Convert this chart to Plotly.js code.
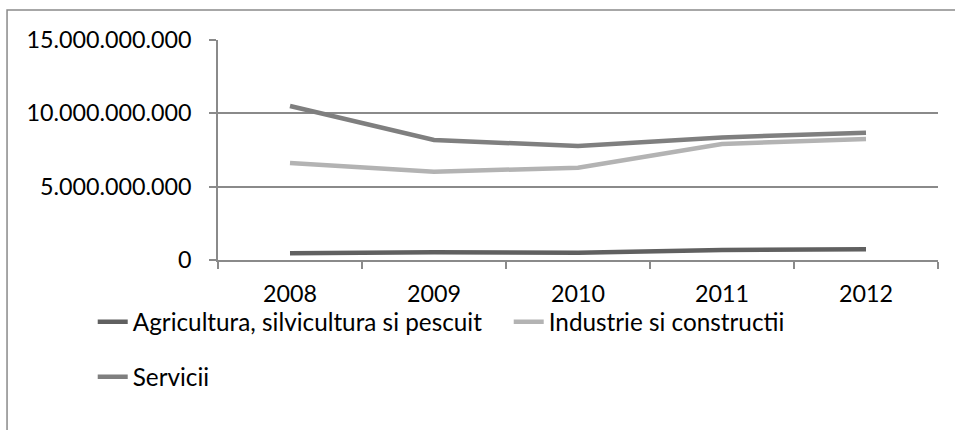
<!DOCTYPE html>
<html>
<head>
<meta charset="utf-8">
<script src="https://cdn.plot.ly/plotly-3.0.1.min.js"></script>
<style>
  body { margin: 0; background: #fff; }
  #chart { width: 955px; height: 430px; }
</style>
</head>
<body>
<div id="chart"></div>
<script>
// Values (lei)
const years = ['2008', '2009', '2010', '2011', '2012'];
const agricultura = [0.46e9, 0.52e9, 0.50e9, 0.68e9, 0.73e9];
const industrie = [6.61e9, 6.02e9, 6.29e9, 7.91e9, 8.25e9];
const servicii = [10.50e9, 8.18e9, 7.77e9, 8.36e9, 8.68e9];

const yTicks = [0, 5e9, 10e9, 15e9];
const yTickText = ['0', '5.000.000.000', '10.000.000.000', '15.000.000.000'];

const font = 'Lato, "Open Sans", sans-serif';
const gridColor = '#8a8a8a';

function lineTrace(name, values, color, legend) {
    return {
        x: years,
        y: values,
        type: 'scatter',
        mode: 'lines',
        name: name,
        legend: legend,
        line: { color: color, width: 4.5 },
        hoverinfo: 'x+y+name'
    };
}

const traces = [
    lineTrace('Agricultura, silvicultura si pescuit', agricultura, '#606060', 'legend'),
    lineTrace('Industrie si constructii', industrie, '#b3b3b3', 'legend'),
    lineTrace('Servicii', servicii, '#7f7f7f', 'legend2')
];

const legendBase = {
    orientation: 'h',
    xanchor: 'left',
    yanchor: 'middle',
    bgcolor: 'rgba(0,0,0,0)',
    font: { family: font, size: 24.3, color: '#000' },
    entrywidth: 371,
    entrywidthmode: 'pixels',
    traceorder: 'normal'
};

const layout = {
    width: 955,
    height: 430,
    margin: { l: 218, r: 17, t: 40, b: 170 },
    paper_bgcolor: '#fff',
    plot_bgcolor: '#fff',
    font: { family: font, size: 23.3, color: '#000' },
    showlegend: true,
    xaxis: {
        type: 'category',
        range: [-0.5, 4.5],
        tickson: 'boundaries',
        ticks: 'outside',
        ticklen: 7,
        tickwidth: 1.5,
        tickcolor: gridColor,
        showline: true,
        linecolor: gridColor,
        linewidth: 1.5,
        showgrid: false,
        ticklabelstandoff: 12,
        fixedrange: true
    },
    yaxis: {
        range: [0, 15e9],
        tickvals: yTicks,
        ticktext: yTickText,
        ticks: 'outside',
        ticklen: 7,
        tickwidth: 1.5,
        tickcolor: gridColor,
        showline: true,
        linecolor: gridColor,
        linewidth: 1.5,
        showgrid: true,
        gridcolor: gridColor,
        gridwidth: 1.5,
        zeroline: false,
        ticklabelstandoff: 13,
        fixedrange: true
    },
    legend: Object.assign({}, legendBase, { x: -0.174, y: -0.282 }),
    legend2: Object.assign({}, legendBase, { x: -0.174, y: -0.532 }),
    shapes: [
        // outer chart frame (left and top edges only, as cropped in the picture)
        {
            type: 'path', xref: 'paper', yref: 'paper',
            path: 'M -0.293 -0.9 L -0.293 1.136 L 1.1 1.136',
            line: { color: gridColor, width: 1.5 }
        }
    ]
};

Plotly.newPlot('chart', traces, layout, { displayModeBar: false, responsive: false });
</script>
</body>
</html>
